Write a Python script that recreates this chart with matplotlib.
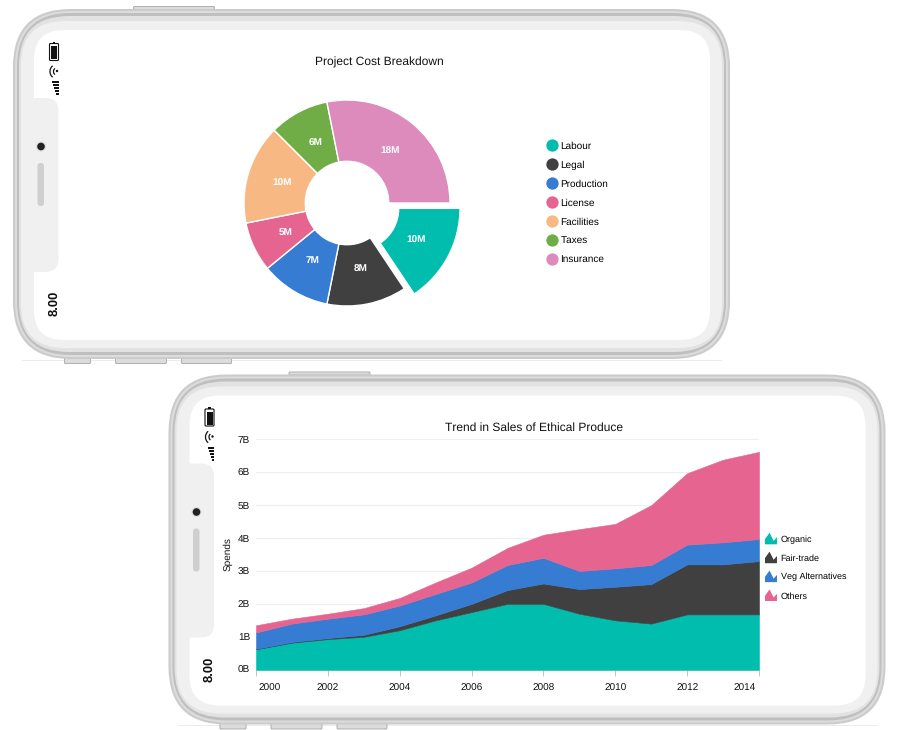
import matplotlib
matplotlib.use("Agg")
import numpy as np
import matplotlib.pyplot as plt
from matplotlib.patches import FancyBboxPatch, Rectangle, Circle, Arc, Polygon
from matplotlib.lines import Line2D
from matplotlib.legend_handler import HandlerPatch
from matplotlib.transforms import ScaledTranslation

plt.rcParams['font.family'] = ['Liberation Sans', 'DejaVu Sans']
plt.rcParams['text.hinting'] = 'no_hinting'
plt.rcParams['text.hinting_factor'] = 1

# ---------- data ----------
pie_title = "Project Cost Breakdown"
pie_categories = ["Labour", "Legal", "Production", "License", "Facilities", "Taxes", "Insurance"]
pie_values = [10, 8, 7, 5, 10, 6, 18]
pie_labels = ["10M", "8M", "7M", "5M", "10M", "6M", "18M"]
pie_explode = [0.11, 0, 0, 0, 0, 0, 0]
pie_colors = ["#00BDAE", "#404041", "#357CD2", "#E56590", "#F8B883", "#70AD47", "#DD8ABD"]

area_title = "Trend in Sales of Ethical Produce"
years = list(range(2000, 2015))
organic = [0.62, 0.82, 0.93, 1.00, 1.20, 1.50, 1.75, 2.00, 2.00, 1.70, 1.50, 1.40, 1.68, 1.68, 1.68]
fair_trade = [0.01, 0.02, 0.03, 0.06, 0.12, 0.15, 0.25, 0.42, 0.62, 0.75, 1.02, 1.20, 1.52, 1.52, 1.62]
veg_alternatives = [0.50, 0.56, 0.59, 0.62, 0.63, 0.65, 0.65, 0.76, 0.78, 0.55, 0.56, 0.58, 0.60, 0.67, 0.67]
others = [0.22, 0.15, 0.15, 0.19, 0.23, 0.35, 0.45, 0.52, 0.70, 1.27, 1.35, 1.82, 2.17, 2.51, 2.65]
area_names = ["Organic", "Fair-trade", "Veg Alternatives", "Others"]
area_colors = ["#00BDAE", "#404041", "#357CD2", "#E56590"]
y_ticks = [0, 1, 2, 3, 4, 5, 6, 7]
y_tick_labels = ["0B", "1B", "2B", "3B", "4B", "5B", "6B", "7B"]
x_ticks = [2000, 2002, 2004, 2006, 2008, 2010, 2012, 2014]

# ---------- figure ----------
W, H = 909, 730
fig = plt.figure(figsize=(W / 100, H / 100), dpi=100, facecolor="white")
PX = 0.72  # px -> pt


def px_axes(x0, y0, x1, y1, **kw):
    return fig.add_axes([x0 / W, 1 - y1 / H, (x1 - x0) / W, (y1 - y0) / H], **kw)


bg = px_axes(0, 0, W, H)
bg.set_xlim(0, W)
bg.set_ylim(H, 0)
bg.axis("off")


def rbox(x0, y0, x1, y1, r, fc, ec="none", lw=0, z=1):
    p = FancyBboxPatch((x0 + r, y0 + r), x1 - x0 - 2 * r, y1 - y0 - 2 * r,
                       boxstyle=f"round,pad={r},rounding_size={r}",
                       fc=fc, ec=ec, lw=lw, zorder=z)
    bg.add_patch(p)


def phone(dx, dy):
    # shadow and buttons
    bg.add_patch(Rectangle((22 + dx, 359.5 + dy), 700, 1.2, fc="#ececec", ec="none", zorder=0))
    for x0, x1, y0, y1 in [(133, 215, 6, 10), (64, 91, 357, 364), (115, 167, 357, 364), (181, 232, 357, 364)]:
        rbox(x0 + dx, y0 + dy, x1 + dx, y1 + dy, 1.5, "#b0b0b0", z=0.5)
        rbox(x0 + dx + 1, y0 + dy + 1, x1 + dx - 1, y1 + dy - 1, 1, "#dcdcdc", z=0.6)
    # body layers
    rbox(13 + dx, 9 + dy, 730 + dx, 359 + dy, 58, "#cbcbcb", z=1)
    rbox(15 + dx, 11 + dy, 728 + dx, 357 + dy, 56, "#dcdcdc", z=1.1)
    rbox(17 + dx, 13 + dy, 726 + dx, 355 + dy, 54, "#bfbfbf", z=1.2)
    rbox(19 + dx, 16 + dy, 724 + dx, 352 + dy, 50, "#e2e2e2", z=1.3)
    rbox(21 + dx, 21 + dy, 722 + dx, 348 + dy, 44, "#f0f0f0", z=1.4)
    rbox(34 + dx, 30 + dy, 710 + dx, 340 + dy, 30, "#ffffff", z=1.5)
    # notch
    rbox(22 + dx, 98 + dy, 58.5 + dx, 272 + dy, 13, "#f0f0f0", z=1.6)
    # camera and speaker
    bg.add_patch(Circle((41 + dx, 146.5 + dy), 5, fc="#dcdcdc", ec="none", zorder=2))
    bg.add_patch(Circle((41 + dx, 146.5 + dy), 3.8, fc="#222222", ec="none", zorder=2.1))
    rbox(37.5 + dx, 163 + dy, 44 + dx, 206 + dy, 3, "#cfcfcf", z=2)
    # battery
    rbox(49.5 + dx, 43.5 + dy, 58.5 + dx, 60.5 + dy, 1, "#ffffff", "#111111", 0.8, z=2)
    bg.add_patch(Rectangle((51 + dx, 46 + dy), 6, 13.2, fc="#111111", ec="none", zorder=2.1))
    bg.add_patch(Rectangle((52.7 + dx, 41.5 + dy), 2.6, 2, fc="#111111", ec="none", zorder=2.1))
    # wifi
    bg.add_patch(Circle((57 + dx, 71 + dy), 1.2, fc="#111111", ec="none", zorder=2))
    for d in (8, 15):
        bg.add_patch(Arc((57.5 + dx, 71.5 + dy), d, d, theta1=130, theta2=230, ec="#111111", lw=0.9, zorder=2))
    # signal bars
    for y, l in [(81, 6.5), (84, 5.5), (87, 4.5), (90, 3.5), (93, 2.5)]:
        bg.add_patch(Rectangle((58.5 + dx - l, y + dy), l, 2, fc="#111111", ec="none", zorder=2))
    # clock
    bg.text(54 + dx, 303.5 + dy, "8.00", rotation=90, ha="center", va="center",
            fontsize=12.5 * PX, fontweight="bold", color="#111111", zorder=2)


phone(0, 0)
phone(155.5, 365.5)

# ---------- pie ----------
R = 103
cx, cy = 347, 203
half = 1.25 * R
axp = px_axes(cx - half, cy - half, cx + half, cy + half)
axp.patch.set_alpha(0)
wedges, texts = axp.pie(pie_values, colors=pie_colors, labels=pie_labels, explode=pie_explode,
                        startangle=0, counterclock=False, radius=1.0, labeldistance=0.655,
                        wedgeprops=dict(width=0.595, edgecolor="white", linewidth=1.0),
                        textprops=dict(color="white", fontsize=10 * PX, fontweight="bold"))
for t in texts:
    t.set_ha("center")
    t.set_va("center")
axp.set_xlim(-1.25, 1.25)
axp.set_ylim(-1.25, 1.25)
axp.set_aspect("equal")
bg.text(379.5, 62.7, pie_title, ha="center", va="center", fontsize=12 * PX, color="#111111", zorder=3)

handles = [Line2D([], [], ls="none", marker="o", ms=12.3 * PX, mfc=c, mec="none", label=n)
           for c, n in zip(pie_colors, pie_categories)]
leg = fig.legend(handles=handles, loc="upper left", bbox_to_anchor=(545.5 / W, 1 - 141.5 / H),
                 frameon=False, fontsize=9.6 * PX, labelspacing=1.0, handlelength=1.35,
                 handletextpad=0.2, borderpad=0, borderaxespad=0)
leg.set_zorder(5)

# ---------- stacked area ----------
axa = px_axes(256, 439.3, 759, 669.7)
axa.patch.set_alpha(0)
polys = axa.stackplot(years, organic, fair_trade, veg_alternatives, others,
                      colors=area_colors, labels=area_names, linewidth=0.4, zorder=3)
for poly, c in zip(polys, area_colors):
    poly.set_edgecolor(c)
axa.set_xlim(2000, 2014)
axa.set_ylim(0, 7)
axa.set_yticks(y_ticks, y_tick_labels)
axa.set_xticks(x_ticks, [str(v) for v in x_ticks])
axa.grid(axis="y", color="#eeeeee", lw=0.8, zorder=0)
axa.set_axisbelow(True)
for s in ("top", "right", "left"):
    axa.spines[s].set_visible(False)
axa.spines["bottom"].set_color("#c4c4c4")
axa.spines["bottom"].set_linewidth(0.7)
axa.tick_params(axis="y", length=0, pad=6 * PX, labelsize=10 * PX, labelcolor="#111111")
axa.tick_params(axis="x", length=6 * PX, width=0.7, color="#c4c4c4", pad=8 * PX, labelsize=10 * PX,
                labelcolor="#111111")
xlabels = axa.get_xticklabels()
xlabels[0].set_ha("left")
xlabels[0].set_transform(xlabels[0].get_transform() + ScaledTranslation(3 / 100, 0, fig.dpi_scale_trans))
xlabels[-1].set_ha("right")
xlabels[-1].set_transform(xlabels[-1].get_transform() + ScaledTranslation(-3 / 100, 0, fig.dpi_scale_trans))
bg.text(228, 554, "Spends", rotation=90, ha="center", va="center", fontsize=10.5 * PX, color="#111111", zorder=3)
bg.text(534, 427.7, area_title, ha="center", va="center", fontsize=12 * PX, color="#111111", zorder=3)


class MountainHandler(HandlerPatch):
    def create_artists(self, legend, orig_handle, xd, yd, width, height, fontsize, trans):
        shape = np.array([[0, 0], [0, .45], [.38, 1], [.72, .3], [1, .62], [1, 0]])
        pts = shape * [width, height * 1.55] + [-xd, -yd - height * 0.25]
        p = Polygon(pts, closed=True, fc=orig_handle.get_facecolor()[0], ec="none", transform=trans)
        return [p]


leg2 = fig.legend(handles=polys, labels=area_names, loc="upper left",
                  bbox_to_anchor=(765 / W, 1 - 535 / H), frameon=False, fontsize=9.0 * PX,
                  labelspacing=1.13, handlelength=1.33, handleheight=0.9, handletextpad=0.42,
                  borderpad=0, borderaxespad=0,
                  handler_map={type(polys[0]): MountainHandler()})
leg2.set_zorder(5)

fig.savefig("out.png", dpi=100, facecolor="white")
